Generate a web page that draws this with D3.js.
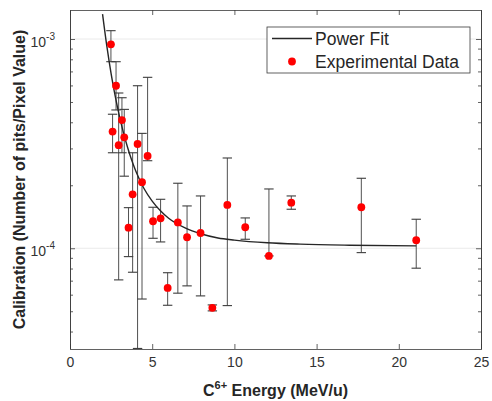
<!DOCTYPE html>
<html>
<head>
<meta charset="utf-8">
<title>Calibration vs C6+ energy</title>
<script src="https://cdn.jsdelivr.net/npm/d3@7"></script>
<style>
    body { margin: 0; background: #fff; }
    text { font-family: "Liberation Sans", Arial, sans-serif; }
</style>
</head>
<body>
<svg id="svg"></svg>
<script>
var WIDTH = 492;
var HEIGHT = 401;
var LEFT = 70, RIGHT = 481, TOP = 10, BOTTOM = 349;

// experimental points (energy in MeV/u, calibration value, error bar limits)
var energy  = [2.49, 2.80, 3.16, 2.59, 3.30, 2.96, 4.11, 4.72, 4.38, 3.81, 3.56, 5.05,
               5.51, 6.56, 7.12, 7.94, 5.94, 8.66, 9.57, 10.66, 12.10, 13.46, 17.72, 21.06];
var calib   = [9.43e-4, 5.98e-4, 4.10e-4, 3.61e-4, 3.39e-4, 3.11e-4, 3.15e-4, 2.76e-4,
               2.07e-4, 1.81e-4, 1.254e-4, 1.346e-4, 1.39e-4, 1.328e-4, 1.129e-4, 1.183e-4,
               6.46e-5, 5.19e-5, 1.61e-4, 1.26e-4, 9.19e-5, 1.651e-4, 1.57e-4, 1.092e-4];
var errLow  = [7.79e-4, 4.58e-4, 2.86e-4, 2.86e-4, 2.21e-4, 7.06e-5, 3.32e-5, 2.62e-4,
               5.72e-5, 7.68e-5, 9.12e-5, 1.116e-4, 1.072e-4, 6.10e-5, 6.61e-5, 5.92e-5,
               5.34e-5, 5.02e-5, 5.32e-5, 1.104e-4, 9.19e-5, 1.536e-4, 9.53e-5, 8.03e-5];
var errHigh = [1.096e-3, 7.79e-4, 5.24e-4, 4.37e-4, 4.61e-4, 5.52e-4, 5.98e-4, 6.56e-4,
               3.54e-4, 2.86e-4, 1.563e-4, 1.57e-4, 1.714e-4, 2.045e-4, 1.593e-4, 1.778e-4,
               7.64e-5, 5.36e-5, 2.70e-4, 1.396e-4, 1.92e-4, 1.778e-4, 2.16e-4, 1.376e-4];

// power fit curve
var fitEnergy = [1.98, 2.25, 2.5, 2.75, 3.0, 3.25, 3.5, 3.75, 4.0, 4.5, 5.0, 5.5,
                 6, 7, 8, 9, 10, 12, 14, 17, 21.06];
var fitCalib  = [1.316e-3, 9.14e-4, 6.84e-4, 5.33e-4, 4.30e-4, 3.57e-4, 3.04e-4, 2.64e-4,
                 2.34e-4, 1.93e-4, 1.68e-4, 1.51e-4, 1.39e-4, 1.25e-4, 1.17e-4, 1.12e-4,
                 1.094e-4, 1.062e-4, 1.046e-4, 1.034e-4, 1.027e-4];

var xTicks = [0, 5, 10, 15, 20, 25];
var yTicks = [1e-4, 1e-3];
var yTickExp = ["-4", "-3"];

var svg = d3.select("#svg")
            .attr("width", WIDTH)
            .attr("height", HEIGHT);

var xScale = d3.scaleLinear().domain([0, 25]).range([LEFT, RIGHT]);
var yScale = d3.scaleLog().domain([3.3e-5, 1.376e-3]).range([BOTTOM, TOP]);

var minorTicks = [];
[1e-5, 1e-4, 1e-3].forEach(function(d){
    for (var k = 2; k <= 9; k++) {
        var v = k * d;
        if (v > 3.3e-5 && v < 1.376e-3) minorTicks.push(v);
    }
});

svg.append("defs").append("clipPath").attr("id", "plotclip")
   .append("rect")
   .attr("x", LEFT).attr("y", TOP)
   .attr("width", RIGHT - LEFT).attr("height", BOTTOM - TOP);

// light horizontal grid at decades
svg.selectAll("line.grid")
   .data(yTicks)
   .enter()
   .append("line")
   .attr("class", "grid")
   .attr("x1", LEFT).attr("x2", RIGHT)
   .attr("y1", function(d){ return yScale(d); })
   .attr("y2", function(d){ return yScale(d); })
   .attr("stroke", "#e4e4e4")
   .attr("stroke-width", 0.8);

// axes, ticks inward
var axisColor = "#3a3a3a";
var styleAxis = function(g){
    g.select(".domain").attr("stroke", axisColor).attr("stroke-width", 0.8);
    g.selectAll(".tick line").attr("stroke", axisColor).attr("stroke-width", 0.8);
    g.selectAll(".tick text").attr("fill", "#333")
     .style("font-family", "'Liberation Sans', Arial, sans-serif")
     .style("font-size", "14px");
};

svg.append("g")
   .attr("transform", "translate(0," + BOTTOM + ")")
   .call(d3.axisBottom(xScale).tickValues(xTicks).tickSizeInner(-5).tickSizeOuter(0)
           .tickPadding(8).tickFormat(d3.format("d")))
   .call(styleAxis);

svg.append("g")
   .attr("transform", "translate(0," + TOP + ")")
   .call(d3.axisTop(xScale).tickValues(xTicks).tickSizeInner(-5).tickSizeOuter(0).tickFormat(""))
   .call(styleAxis);

svg.append("g")
   .attr("transform", "translate(" + LEFT + ",0)")
   .call(d3.axisLeft(yScale).tickValues(yTicks).tickSizeInner(-5).tickSizeOuter(0).tickFormat(""))
   .call(styleAxis);

svg.append("g")
   .attr("transform", "translate(" + LEFT + ",0)")
   .call(d3.axisLeft(yScale).tickValues(minorTicks).tickSizeInner(-3).tickSizeOuter(0).tickFormat(""))
   .call(styleAxis);

svg.append("g")
   .attr("transform", "translate(" + RIGHT + ",0)")
   .call(d3.axisRight(yScale).tickValues(yTicks).tickSizeInner(-5).tickSizeOuter(0).tickFormat(""))
   .call(styleAxis);

svg.append("g")
   .attr("transform", "translate(" + RIGHT + ",0)")
   .call(d3.axisRight(yScale).tickValues(minorTicks).tickSizeInner(-3).tickSizeOuter(0).tickFormat(""))
   .call(styleAxis);

// y tick labels as 10^n
var ylab = svg.selectAll("text.ytick")
   .data(yTicks)
   .enter()
   .append("text")
   .attr("class", "ytick")
   .attr("x", LEFT - 15)
   .attr("y", function(d){ return yScale(d) + 8; })
   .attr("text-anchor", "end")
   .attr("fill", "#333")
   .attr("font-size", "14px");
ylab.append("tspan").text("10");
ylab.append("tspan")
    .attr("dy", -7)
    .attr("font-size", "10px")
    .text(function(d, i){ return yTickExp[i]; });

// error bars
var plot = svg.append("g").attr("clip-path", "url(#plotclip)");
var CAP = 4.7;
var idx = d3.range(energy.length);
var barColor = "#3c3c3c";

plot.selectAll("line.ebar")
    .data(idx)
    .enter()
    .append("line")
    .attr("class", "ebar")
    .attr("x1", function(i){ return xScale(energy[i]); })
    .attr("x2", function(i){ return xScale(energy[i]); })
    .attr("y1", function(i){ return yScale(errLow[i]); })
    .attr("y2", function(i){ return yScale(errHigh[i]); })
    .attr("stroke", barColor)
    .attr("stroke-width", 0.9);

plot.selectAll("line.caplow")
    .data(idx)
    .enter()
    .append("line")
    .attr("class", "caplow")
    .attr("x1", function(i){ return xScale(energy[i]) - CAP; })
    .attr("x2", function(i){ return xScale(energy[i]) + CAP; })
    .attr("y1", function(i){ return yScale(errLow[i]); })
    .attr("y2", function(i){ return yScale(errLow[i]); })
    .attr("stroke", barColor)
    .attr("stroke-width", 1.1);

plot.selectAll("line.caphigh")
    .data(idx)
    .enter()
    .append("line")
    .attr("class", "caphigh")
    .attr("x1", function(i){ return xScale(energy[i]) - CAP; })
    .attr("x2", function(i){ return xScale(energy[i]) + CAP; })
    .attr("y1", function(i){ return yScale(errHigh[i]); })
    .attr("y2", function(i){ return yScale(errHigh[i]); })
    .attr("stroke", barColor)
    .attr("stroke-width", 1.1);

// power fit
var fitLine = d3.line()
    .x(function(i){ return xScale(fitEnergy[i]); })
    .y(function(i){ return yScale(fitCalib[i]); })
    .curve(d3.curveMonotoneX);

plot.append("path")
    .attr("d", fitLine(d3.range(fitEnergy.length)))
    .attr("fill", "none")
    .attr("stroke", "#262626")
    .attr("stroke-width", 1.4);

// data points
plot.selectAll("circle.pt")
    .data(idx)
    .enter()
    .append("circle")
    .attr("class", "pt")
    .attr("cx", function(i){ return xScale(energy[i]); })
    .attr("cy", function(i){ return yScale(calib[i]); })
    .attr("r", 3.9)
    .attr("fill", "#ff0000");

// axis labels
svg.append("text")
   .attr("x", (LEFT + RIGHT) / 2)
   .attr("y", 396)
   .attr("text-anchor", "middle")
   .attr("font-size", "16px")
   .attr("font-weight", "bold")
   .attr("fill", "#262626")
   .call(function(t){
       t.append("tspan").text("C");
       t.append("tspan").attr("dy", -7).attr("font-size", "11px").text("6+");
       t.append("tspan").attr("dy", 7).text(" Energy (MeV/u)");
   });

svg.append("text")
   .attr("transform", "translate(25," + ((TOP + BOTTOM) / 2) + ") rotate(-90)")
   .attr("text-anchor", "middle")
   .attr("font-size", "16px")
   .attr("font-weight", "bold")
   .attr("fill", "#262626")
   .text("Calibration (Number of pits/Pixel Value)");

// legend
var legend = svg.append("g");
legend.append("rect")
      .attr("x", 267).attr("y", 27)
      .attr("width", 203).attr("height", 46)
      .attr("fill", "#fff")
      .attr("stroke", "#3a3a3a")
      .attr("stroke-width", 0.8);
legend.append("line")
      .attr("x1", 272).attr("x2", 312)
      .attr("y1", 38.5).attr("y2", 38.5)
      .attr("stroke", "#262626")
      .attr("stroke-width", 1.4);
legend.append("circle")
      .attr("cx", 292).attr("cy", 61.5)
      .attr("r", 3.9)
      .attr("fill", "#ff0000");
legend.selectAll("text")
      .data(["Power Fit", "Experimental Data"])
      .enter()
      .append("text")
      .attr("x", 315)
      .attr("y", function(d, i){ return 44.5 + i * 23; })
      .attr("font-size", "17.5px")
      .attr("fill", "#262626")
      .text(function(d){ return d; });
</script>
</body>
</html>
